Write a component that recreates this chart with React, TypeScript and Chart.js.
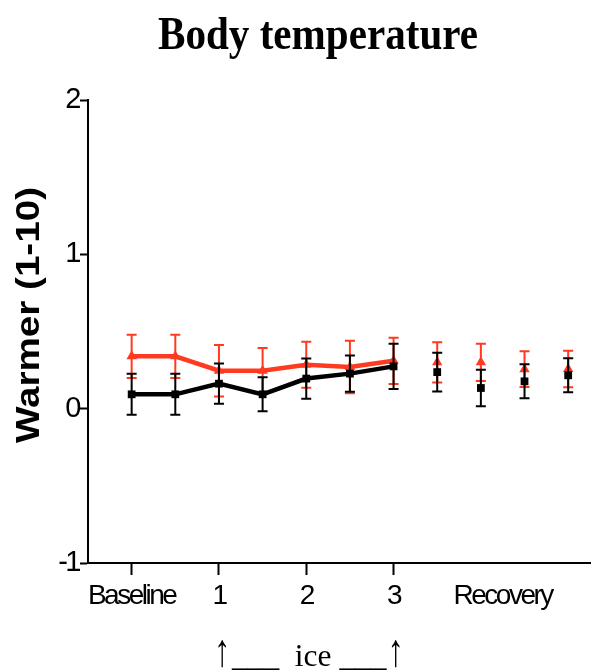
import React, { useEffect, useRef } from 'react';
import { Chart, registerables } from 'chart.js';

Chart.register(...registerables);

// ---- data ----
const TITLE = 'Body temperature';
const Y_TITLE = 'Warmer (1-10)';
const ICE_ARROW = '\u2191';
const ICE_TEXT = '___  ice ___';
const positions = [0, 1, 2, 3, 4, 5, 6, 7, 8, 9, 10];
const xTickValues = [0, 2, 4, 6, 8.5];
const xTickLabels = ['Baseline', '1', '2', '3', 'Recovery'];
const yTickValues = [-1, 0, 1, 2];
const lastConnectedIndex = 6;

const redMeans = [0.339, 0.339, 0.246, 0.246, 0.285, 0.27, 0.31, 0.3, 0.3, 0.256, 0.257];
const redErrors = [0.14, 0.14, 0.167, 0.147, 0.149, 0.17, 0.15, 0.13, 0.12, 0.116, 0.119];
const blackMeans = [0.093, 0.093, 0.162, 0.093, 0.195, 0.227, 0.274, 0.237, 0.134, 0.177, 0.216];
const blackErrors = [0.133, 0.133, 0.13, 0.11, 0.13, 0.117, 0.147, 0.125, 0.118, 0.11, 0.11];

const RED = '#ff3a21';
const BLACK = '#000000';

const errorBarPlugin = {
  id: 'errorBars',
  beforeDatasetDraw(chart: any, args: any) {
    const ds = chart.data.datasets[args.index];
    const errs: number[] = ds.errors;
    if (!errs) return;
    const { ctx } = chart;
    const x = chart.scales.x;
    const y = chart.scales.y;
    ctx.save();
    ctx.strokeStyle = ds.errorColor;
    ctx.lineWidth = 2;
    const cap = 5;
    ds.data.forEach((pt: any, i: number) => {
      const px = x.getPixelForValue(pt.x);
      const top = y.getPixelForValue(pt.y + errs[i]);
      const bot = y.getPixelForValue(pt.y - errs[i]);
      ctx.beginPath();
      ctx.moveTo(px, top);
      ctx.lineTo(px, bot);
      ctx.moveTo(px - cap, top);
      ctx.lineTo(px + cap, top);
      ctx.moveTo(px - cap, bot);
      ctx.lineTo(px + cap, bot);
      ctx.stroke();
    });
    ctx.restore();
  },
};

const textPlugin = {
  id: 'texts',
  beforeDraw(chart: any) {
    (chart.ctx as any).letterSpacing = '-2.5px';
  },
  afterDraw(chart: any) {
    const ctx = chart.ctx;
    const x = chart.scales.x;
    ctx.save();
    (ctx as any).letterSpacing = '0px';
    ctx.fillStyle = '#000';

    // title
    ctx.save();
    ctx.font = 'bold 46px "Liberation Serif", "Times New Roman", serif';
    ctx.textAlign = 'center';
    ctx.textBaseline = 'alphabetic';
    let w = ctx.measureText(TITLE).width;
    ctx.translate(318, 49);
    ctx.scale(320 / w, 1);
    ctx.fillText(TITLE, 0, 0);
    ctx.restore();

    // y-axis title
    ctx.save();
    ctx.font = 'bold 38px "Liberation Sans", Arial, sans-serif';
    ctx.textAlign = 'center';
    ctx.textBaseline = 'middle';
    w = ctx.measureText(Y_TITLE).width;
    ctx.translate(30, 315);
    ctx.rotate(-Math.PI / 2);
    ctx.scale(256 / w, 0.85);
    ctx.fillText(Y_TITLE, 0, 0);
    ctx.restore();

    // ice annotation: arrows at ticks 1 and 3, text in between
    const a1 = x.getPixelForValue(2) + 3;
    const a2 = x.getPixelForValue(6) + 2;
    ctx.save();
    ctx.font = '46px "Liberation Serif", "Times New Roman", serif';
    ctx.textAlign = 'center';
    ctx.textBaseline = 'alphabetic';
    [a1, a2].forEach((ax) => {
      ctx.save();
      ctx.translate(ax, 666);
      ctx.scale(0.7, 1);
      ctx.fillText(ICE_ARROW, 0, 0);
      ctx.restore();
    });
    ctx.font = '32px "Liberation Serif", "Times New Roman", serif';
    ctx.textAlign = 'left';
    w = ctx.measureText(ICE_TEXT).width;
    const left = a1 + 10;
    const right = a2 - 9;
    ctx.translate(left, 666);
    ctx.scale((right - left) / w, 1);
    ctx.fillText(ICE_TEXT, 0, 0);
    ctx.restore();

    ctx.restore();
  },
};

export default function App() {
  const canvasRef = useRef<HTMLCanvasElement | null>(null);

  useEffect(() => {
    if (!canvasRef.current) return;
    const tickFont = { family: '"Liberation Sans", Arial, sans-serif', size: 28 };
    const chart = new Chart(canvasRef.current, {
      type: 'line',
      data: {
        datasets: [
          {
            label: 'black',
            data: positions.map((p, i) => ({ x: p, y: blackMeans[i] })),
            borderColor: BLACK,
            backgroundColor: BLACK,
            borderWidth: 4.5,
            pointStyle: 'rect',
            pointRadius: 5.5,
            pointBorderWidth: 0,
            pointBackgroundColor: BLACK,
            segment: {
              borderColor: (c: any) => (c.p0DataIndex >= lastConnectedIndex ? 'rgba(0,0,0,0)' : BLACK),
            },
            errors: blackErrors,
            errorColor: BLACK,
          } as any,
          {
            label: 'red',
            data: positions.map((p, i) => ({ x: p, y: redMeans[i] })),
            borderColor: RED,
            backgroundColor: RED,
            borderWidth: 4.5,
            pointStyle: 'triangle',
            pointRadius: 6,
            pointBorderWidth: 0,
            pointBackgroundColor: RED,
            segment: {
              borderColor: (c: any) => (c.p0DataIndex >= lastConnectedIndex ? 'rgba(0,0,0,0)' : RED),
            },
            errors: redErrors,
            errorColor: RED,
          } as any,
        ],
      },
      options: {
        responsive: false,
        animation: false,
        events: [],
        layout: { padding: { top: 100, right: 7, left: 0, bottom: 0 } },
        plugins: {
          legend: { display: false },
          title: { display: false },
          tooltip: { enabled: false },
        },
        scales: {
          x: {
            type: 'linear',
            min: -1,
            max: 10.5,
            afterBuildTicks: (scale: any) => {
              scale.ticks = xTickValues.map((v) => ({ value: v }));
            },
            afterFit: (scale: any) => {
              scale.height = 109;
            },
            ticks: {
              autoSkip: false,
              maxRotation: 0,
              minRotation: 0,
              color: '#000',
              font: tickFont,
              padding: 4,
              callback: (v: any) => {
                const idx = xTickValues.indexOf(Number(v));
                return idx >= 0 ? xTickLabels[idx] : '';
              },
            },
            grid: {
              drawOnChartArea: false,
              drawTicks: true,
              tickLength: 12,
              tickWidth: 2,
              tickColor: (c: any) => (c.tick && c.tick.value === 8.5 ? 'rgba(0,0,0,0)' : '#000'),
            },
            border: { display: true, color: '#000', width: 2 },
          },
          y: {
            type: 'linear',
            min: -1,
            max: 2,
            afterBuildTicks: (scale: any) => {
              scale.ticks = yTickValues.map((v) => ({ value: v }));
            },
            afterFit: (scale: any) => {
              scale.width = 88;
            },
            ticks: {
              color: '#000',
              font: { family: '"Liberation Sans", Arial, sans-serif', size: 29 },
              padding: 1,
              callback: (v: any) => String(v),
            },
            grid: {
              drawOnChartArea: false,
              drawTicks: true,
              tickLength: 8,
              tickWidth: 2,
              tickColor: '#000',
            },
            border: { display: true, color: '#000', width: 2 },
          },
        },
      } as any,
      plugins: [errorBarPlugin, textPlugin],
    });
    return () => chart.destroy();
  }, []);

  return (
    <div style={{ position: 'fixed', left: 0, top: 0, width: 597, height: 672, background: '#fff' }}>
      <canvas ref={canvasRef} width={597} height={672} style={{ display: 'block' }} />
    </div>
  );
}
